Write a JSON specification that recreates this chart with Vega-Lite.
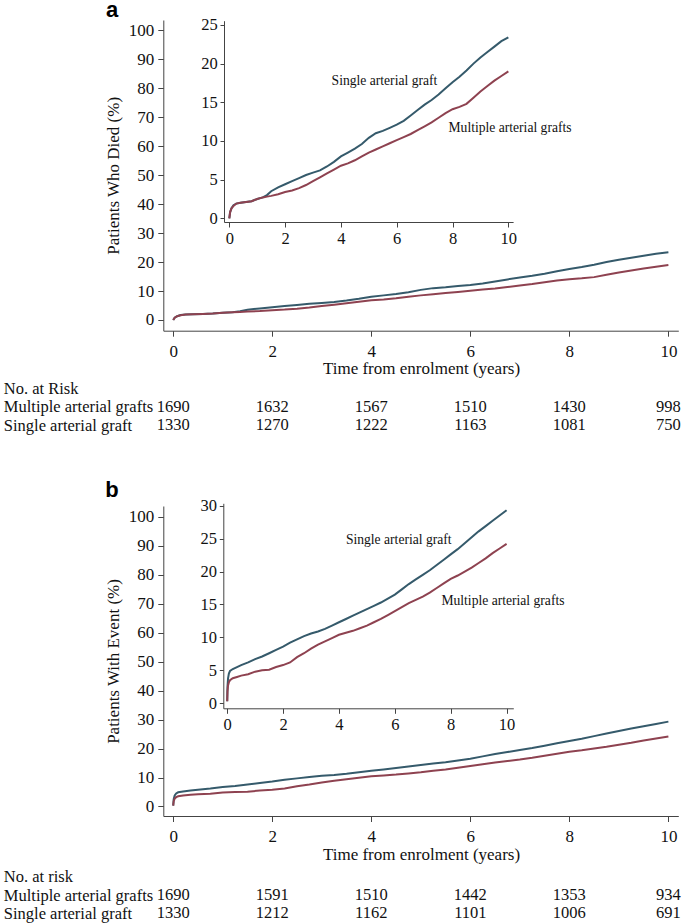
{
 "$schema": "https://vega.github.io/schema/vega-lite/v6.json",
 "width": 685, "height": 924, "autosize": "none", "padding": 0,
 "background": "white",
 "config": {
  "view": {"stroke": null},
  "axis": {"grid": false, "labelFont": "Liberation Serif", "titleFont": "Liberation Serif", "labelColor": "#111", "titleColor": "#111", "domainColor": "#444", "tickColor": "#444", "labelFlush": false, "labelOverlap": false, "labelBound": false, "titleFontWeight": "normal"},
  "text": {"font": "Liberation Serif", "color": "#111"}
 },
 "datasets": {
  "died": [
   {"t":0,"g":"S","v":0},{"t":0.03,"g":"S","v":0.8},{"t":0.08,"g":"S","v":1.3},{"t":0.15,"g":"S","v":1.7},{"t":0.25,"g":"S","v":1.9},{"t":0.4,"g":"S","v":2.0},{"t":0.6,"g":"S","v":2.1},{"t":0.8,"g":"S","v":2.2},{"t":1.0,"g":"S","v":2.5},{"t":1.2,"g":"S","v":2.7},{"t":1.35,"g":"S","v":3.0},{"t":1.5,"g":"S","v":3.5},{"t":1.75,"g":"S","v":4.0},{"t":2.0,"g":"S","v":4.4},{"t":2.25,"g":"S","v":4.8},{"t":2.5,"g":"S","v":5.2},{"t":2.75,"g":"S","v":5.6},{"t":3.0,"g":"S","v":5.9},{"t":3.25,"g":"S","v":6.2},{"t":3.5,"g":"S","v":6.7},{"t":3.75,"g":"S","v":7.3},{"t":4.0,"g":"S","v":8.0},{"t":4.25,"g":"S","v":8.5},{"t":4.5,"g":"S","v":9.0},{"t":4.75,"g":"S","v":9.6},{"t":5.0,"g":"S","v":10.4},{"t":5.25,"g":"S","v":11.0},{"t":5.5,"g":"S","v":11.3},{"t":5.75,"g":"S","v":11.7},{"t":6.0,"g":"S","v":12.1},{"t":6.25,"g":"S","v":12.6},{"t":6.5,"g":"S","v":13.3},{"t":6.75,"g":"S","v":14.0},{"t":7.0,"g":"S","v":14.7},{"t":7.25,"g":"S","v":15.3},{"t":7.5,"g":"S","v":16.0},{"t":7.75,"g":"S","v":16.8},{"t":8.0,"g":"S","v":17.6},{"t":8.25,"g":"S","v":18.3},{"t":8.5,"g":"S","v":19.1},{"t":8.75,"g":"S","v":20.0},{"t":9.0,"g":"S","v":20.8},{"t":9.25,"g":"S","v":21.5},{"t":9.5,"g":"S","v":22.2},{"t":9.75,"g":"S","v":22.9},{"t":10.0,"g":"S","v":23.4},
   {"t":0,"g":"M","v":0},{"t":0.03,"g":"M","v":0.8},{"t":0.08,"g":"M","v":1.3},{"t":0.15,"g":"M","v":1.6},{"t":0.25,"g":"M","v":1.9},{"t":0.4,"g":"M","v":2.0},{"t":0.6,"g":"M","v":2.1},{"t":0.8,"g":"M","v":2.2},{"t":1.0,"g":"M","v":2.5},{"t":1.2,"g":"M","v":2.7},{"t":1.35,"g":"M","v":2.8},{"t":1.5,"g":"M","v":2.9},{"t":1.75,"g":"M","v":3.1},{"t":2.0,"g":"M","v":3.4},{"t":2.25,"g":"M","v":3.6},{"t":2.5,"g":"M","v":3.9},{"t":2.75,"g":"M","v":4.3},{"t":3.0,"g":"M","v":4.8},{"t":3.25,"g":"M","v":5.3},{"t":3.5,"g":"M","v":5.8},{"t":3.75,"g":"M","v":6.3},{"t":4.0,"g":"M","v":6.8},{"t":4.25,"g":"M","v":7.1},{"t":4.5,"g":"M","v":7.5},{"t":4.75,"g":"M","v":8.0},{"t":5.0,"g":"M","v":8.5},{"t":5.25,"g":"M","v":8.9},{"t":5.5,"g":"M","v":9.3},{"t":5.75,"g":"M","v":9.7},{"t":6.0,"g":"M","v":10.1},{"t":6.25,"g":"M","v":10.5},{"t":6.5,"g":"M","v":10.9},{"t":6.75,"g":"M","v":11.4},{"t":7.0,"g":"M","v":11.9},{"t":7.25,"g":"M","v":12.4},{"t":7.5,"g":"M","v":13.0},{"t":7.75,"g":"M","v":13.6},{"t":8.0,"g":"M","v":14.1},{"t":8.25,"g":"M","v":14.4},{"t":8.5,"g":"M","v":14.8},{"t":8.75,"g":"M","v":15.6},{"t":9.0,"g":"M","v":16.4},{"t":9.25,"g":"M","v":17.1},{"t":9.5,"g":"M","v":17.8},{"t":9.75,"g":"M","v":18.4},{"t":10.0,"g":"M","v":19.0}
  ],
  "event": [
   {"t":0,"g":"S","v":0.3},{"t":0.01,"g":"S","v":2.5},{"t":0.03,"g":"S","v":3.8},{"t":0.06,"g":"S","v":4.5},{"t":0.1,"g":"S","v":4.9},{"t":0.2,"g":"S","v":5.2},{"t":0.35,"g":"S","v":5.5},{"t":0.5,"g":"S","v":5.8},{"t":0.75,"g":"S","v":6.2},{"t":1.0,"g":"S","v":6.7},{"t":1.25,"g":"S","v":7.1},{"t":1.5,"g":"S","v":7.6},{"t":1.75,"g":"S","v":8.1},{"t":2.0,"g":"S","v":8.6},{"t":2.25,"g":"S","v":9.2},{"t":2.5,"g":"S","v":9.7},{"t":2.75,"g":"S","v":10.2},{"t":3.0,"g":"S","v":10.6},{"t":3.25,"g":"S","v":10.9},{"t":3.5,"g":"S","v":11.3},{"t":3.75,"g":"S","v":11.8},{"t":4.0,"g":"S","v":12.3},{"t":4.25,"g":"S","v":12.8},{"t":4.5,"g":"S","v":13.3},{"t":4.75,"g":"S","v":13.8},{"t":5.0,"g":"S","v":14.3},{"t":5.25,"g":"S","v":14.8},{"t":5.5,"g":"S","v":15.3},{"t":5.75,"g":"S","v":15.9},{"t":6.0,"g":"S","v":16.5},{"t":6.25,"g":"S","v":17.3},{"t":6.5,"g":"S","v":18.1},{"t":6.75,"g":"S","v":18.8},{"t":7.0,"g":"S","v":19.5},{"t":7.25,"g":"S","v":20.2},{"t":7.5,"g":"S","v":21.0},{"t":7.75,"g":"S","v":21.8},{"t":8.0,"g":"S","v":22.6},{"t":8.25,"g":"S","v":23.4},{"t":8.5,"g":"S","v":24.3},{"t":8.75,"g":"S","v":25.2},{"t":9.0,"g":"S","v":26.1},{"t":9.25,"g":"S","v":26.9},{"t":9.5,"g":"S","v":27.7},{"t":9.75,"g":"S","v":28.5},{"t":10.0,"g":"S","v":29.3},
   {"t":0,"g":"M","v":0.3},{"t":0.01,"g":"M","v":1.8},{"t":0.03,"g":"M","v":2.7},{"t":0.06,"g":"M","v":3.2},{"t":0.1,"g":"M","v":3.5},{"t":0.2,"g":"M","v":3.8},{"t":0.35,"g":"M","v":4.0},{"t":0.5,"g":"M","v":4.2},{"t":0.75,"g":"M","v":4.4},{"t":1.0,"g":"M","v":4.8},{"t":1.25,"g":"M","v":5.0},{"t":1.5,"g":"M","v":5.1},{"t":1.75,"g":"M","v":5.5},{"t":2.0,"g":"M","v":5.8},{"t":2.25,"g":"M","v":6.2},{"t":2.5,"g":"M","v":7.0},{"t":2.75,"g":"M","v":7.6},{"t":3.0,"g":"M","v":8.3},{"t":3.25,"g":"M","v":8.9},{"t":3.5,"g":"M","v":9.4},{"t":3.75,"g":"M","v":9.9},{"t":4.0,"g":"M","v":10.4},{"t":4.25,"g":"M","v":10.7},{"t":4.5,"g":"M","v":11.0},{"t":4.75,"g":"M","v":11.4},{"t":5.0,"g":"M","v":11.8},{"t":5.25,"g":"M","v":12.3},{"t":5.5,"g":"M","v":12.8},{"t":5.75,"g":"M","v":13.4},{"t":6.0,"g":"M","v":14.0},{"t":6.25,"g":"M","v":14.6},{"t":6.5,"g":"M","v":15.2},{"t":6.75,"g":"M","v":15.7},{"t":7.0,"g":"M","v":16.2},{"t":7.25,"g":"M","v":16.8},{"t":7.5,"g":"M","v":17.5},{"t":7.75,"g":"M","v":18.2},{"t":8.0,"g":"M","v":18.9},{"t":8.25,"g":"M","v":19.4},{"t":8.5,"g":"M","v":20.0},{"t":8.75,"g":"M","v":20.6},{"t":9.0,"g":"M","v":21.3},{"t":9.25,"g":"M","v":22.0},{"t":9.5,"g":"M","v":22.8},{"t":9.75,"g":"M","v":23.5},{"t":10.0,"g":"M","v":24.2}
  ],
  "riskA": [
   {"t":0,"g":"Multiple arterial grafts","n":"1690"},{"t":2,"g":"Multiple arterial grafts","n":"1632"},{"t":4,"g":"Multiple arterial grafts","n":"1567"},{"t":6,"g":"Multiple arterial grafts","n":"1510"},{"t":8,"g":"Multiple arterial grafts","n":"1430"},{"t":10,"g":"Multiple arterial grafts","n":"998"},
   {"t":0,"g":"Single arterial graft","n":"1330"},{"t":2,"g":"Single arterial graft","n":"1270"},{"t":4,"g":"Single arterial graft","n":"1222"},{"t":6,"g":"Single arterial graft","n":"1163"},{"t":8,"g":"Single arterial graft","n":"1081"},{"t":10,"g":"Single arterial graft","n":"750"}
  ],
  "riskB": [
   {"t":0,"g":"Multiple arterial grafts","n":"1690"},{"t":2,"g":"Multiple arterial grafts","n":"1591"},{"t":4,"g":"Multiple arterial grafts","n":"1510"},{"t":6,"g":"Multiple arterial grafts","n":"1442"},{"t":8,"g":"Multiple arterial grafts","n":"1353"},{"t":10,"g":"Multiple arterial grafts","n":"934"},
   {"t":0,"g":"Single arterial graft","n":"1330"},{"t":2,"g":"Single arterial graft","n":"1212"},{"t":4,"g":"Single arterial graft","n":"1162"},{"t":6,"g":"Single arterial graft","n":"1101"},{"t":8,"g":"Single arterial graft","n":"1006"},{"t":10,"g":"Single arterial graft","n":"691"}
  ]
 },
 "layer": [
  {
   "data": {"name": "died"},
   "mark": {"type": "line", "strokeWidth": 2},
   "encoding": {
    "x": {"field": "t", "type": "quantitative", "scale": {"domain": [-0.2, 10.2], "range": [163.3, 678.3], "nice": false, "zero": false},
     "axis": {"orient": "bottom", "offset": -593.3, "values": [0,2,4,6,8,10], "tickSize": 5.5, "labelPadding": 7, "labelFontSize": 17, "title": "Time from enrolment (years)", "titleFontSize": 17, "titleX": 421, "titleY": 43, "titleBaseline": "alphabetic", "titleAlign": "center", "titleAngle": 0}},
    "y": {"field": "v", "type": "quantitative", "scale": {"domain": [-3.7, 103.6], "range": [330.7, 20], "nice": false, "zero": false},
     "axis": {"orient": "left", "offset": -163.3, "values": [0,10,20,30,40,50,60,70,80,90,100], "tickSize": 5.5, "labelPadding": 4, "labelFontSize": 17, "title": "Patients Who Died (%)", "titleFontSize": 17, "titleX": -50, "titleY": 175.35, "titleAngle": -90, "titleBaseline": "middle", "titleAlign": "center"}},
    "color": {"field": "g", "type": "nominal", "scale": {"domain": ["S", "M"], "range": ["#355a6b", "#8e4250"]}, "legend": null}
   }
  },
  {
   "encoding": {
    "x": {"field": "t", "type": "quantitative", "scale": {"domain": [-0.19, 10.17], "range": [224, 513.1], "nice": false, "zero": false},
     "axis": {"orient": "bottom", "offset": -702, "values": [0,2,4,6,8,10], "tickSize": 5, "labelPadding": 3.4, "labelFontSize": 16.5, "title": null}},
    "y": {"field": "v", "type": "quantitative", "scale": {"domain": [-0.48, 25.55], "range": [222, 20.7], "nice": false, "zero": false},
     "axis": {"orient": "left", "offset": -224, "values": [0,5,10,15,20,25], "tickSize": 4, "labelPadding": 2.7, "labelFontSize": 16.5, "title": null}}
   },
   "layer": [
    {"data": {"name": "died"}, "mark": {"type": "line", "strokeWidth": 2},
     "encoding": {"color": {"field": "g", "type": "nominal", "scale": {"domain": ["S", "M"], "range": ["#355a6b", "#8e4250"]}, "legend": null}}},
    {"data": {"values": [{"t": 5.56, "v": 17.76, "label": "Single arterial graft"}, {"t": 10.06, "v": 11.64, "label": "Multiple arterial grafts"}]},
     "mark": {"type": "text", "fontSize": 13.6, "align": "center", "baseline": "middle"},
     "encoding": {"text": {"field": "label"}}}
   ]
  },
  {
   "data": {"name": "riskA"},
   "mark": {"type": "text", "fontSize": 16.5, "align": "center", "baseline": "middle"},
   "encoding": {
    "x": {"field": "t", "type": "quantitative", "scale": {"domain": [-0.2, 10.2], "range": [163.3, 678.3], "nice": false, "zero": false}, "axis": null},
    "y": {"field": "g", "type": "nominal", "scale": {"type": "point", "domain": ["No. at Risk", "Multiple arterial grafts", "Single arterial graft"], "range": [388, 425.3], "padding": 0},
     "axis": {"orient": "left", "offset": -3.3, "ticks": false, "tickSize": 0, "domain": false, "labelPadding": 0, "labelAlign": "left", "labelBaseline": "middle", "labelFontSize": 16.5, "labelLimit": 400, "title": null}},
    "text": {"field": "n"}
   }
  },
  {
   "data": {"name": "event"},
   "mark": {"type": "line", "strokeWidth": 2},
   "encoding": {
    "x": {"field": "t", "type": "quantitative", "scale": {"domain": [-0.2, 10.2], "range": [163.3, 678.3], "nice": false, "zero": false},
     "axis": {"orient": "bottom", "offset": -108, "values": [0,2,4,6,8,10], "tickSize": 5.5, "labelPadding": 7, "labelFontSize": 17, "title": "Time from enrolment (years)", "titleFontSize": 17, "titleX": 421, "titleY": 43.5, "titleBaseline": "alphabetic", "titleAlign": "center", "titleAngle": 0}},
    "y": {"field": "v", "type": "quantitative", "scale": {"domain": [-3.3, 103.8], "range": [816, 506], "nice": false, "zero": false},
     "axis": {"orient": "left", "offset": -163.3, "values": [0,10,20,30,40,50,60,70,80,90,100], "tickSize": 5.5, "labelPadding": 4, "labelFontSize": 17, "title": "Patients With Event (%)", "titleFontSize": 17, "titleX": -50, "titleY": 661, "titleAngle": -90, "titleBaseline": "middle", "titleAlign": "center"}},
    "color": {"field": "g", "type": "nominal", "scale": {"domain": ["S", "M"], "range": ["#355a6b", "#8e4250"]}, "legend": null}
   }
  },
  {
   "encoding": {
    "x": {"field": "t", "type": "quantitative", "scale": {"domain": [-0.14, 10.24], "range": [223.3, 513.3], "nice": false, "zero": false},
     "axis": {"orient": "bottom", "offset": -215.7, "values": [0,2,4,6,8,10], "tickSize": 5, "labelPadding": 3.4, "labelFontSize": 16.5, "title": null}},
    "y": {"field": "v", "type": "quantitative", "scale": {"domain": [-0.76, 30.36], "range": [708.3, 503.3], "nice": false, "zero": false},
     "axis": {"orient": "left", "offset": -223.3, "values": [0,5,10,15,20,25,30], "tickSize": 4, "labelPadding": 2.7, "labelFontSize": 16.5, "title": null}}
   },
   "layer": [
    {"data": {"name": "event"}, "mark": {"type": "line", "strokeWidth": 2},
     "encoding": {"color": {"field": "g", "type": "nominal", "scale": {"domain": ["S", "M"], "range": ["#355a6b", "#8e4250"]}, "legend": null}}},
    {"data": {"values": [{"t": 6.14, "v": 24.8, "label": "Single arterial graft"}, {"t": 9.87, "v": 15.6, "label": "Multiple arterial grafts"}]},
     "mark": {"type": "text", "fontSize": 13.6, "align": "center", "baseline": "middle"},
     "encoding": {"text": {"field": "label"}}}
   ]
  },
  {
   "data": {"name": "riskB"},
   "mark": {"type": "text", "fontSize": 16.5, "align": "center", "baseline": "middle"},
   "encoding": {
    "x": {"field": "t", "type": "quantitative", "scale": {"domain": [-0.2, 10.2], "range": [163.3, 678.3], "nice": false, "zero": false}, "axis": null},
    "y": {"field": "g", "type": "nominal", "scale": {"type": "point", "domain": ["No. at risk", "Multiple arterial grafts", "Single arterial graft"], "range": [876.7, 913.3], "padding": 0},
     "axis": {"orient": "left", "offset": -3.3, "ticks": false, "tickSize": 0, "domain": false, "labelPadding": 0, "labelAlign": "left", "labelBaseline": "middle", "labelFontSize": 16.5, "labelLimit": 400, "title": null}},
    "text": {"field": "n"}
   }
  },
  {
   "data": {"values": [{"panel": "a"}, {"panel": "b"}]},
   "mark": {"type": "text", "font": "Liberation Sans", "fontWeight": "bold", "fontSize": 22, "align": "center", "baseline": "alphabetic", "color": "#000"},
   "encoding": {
    "x": {"field": "panel", "type": "nominal", "scale": {"type": "point", "domain": ["a", "b"], "range": [112, 112], "padding": 0}, "axis": null},
    "y": {"field": "panel", "type": "nominal", "scale": {"type": "point", "domain": ["a", "b"], "range": [16.5, 497], "padding": 0}, "axis": null},
    "text": {"field": "panel"}
   }
  }
 ],
 "resolve": {"scale": {"x": "independent", "y": "independent", "color": "independent"}, "axis": {"x": "independent", "y": "independent"}}
}
